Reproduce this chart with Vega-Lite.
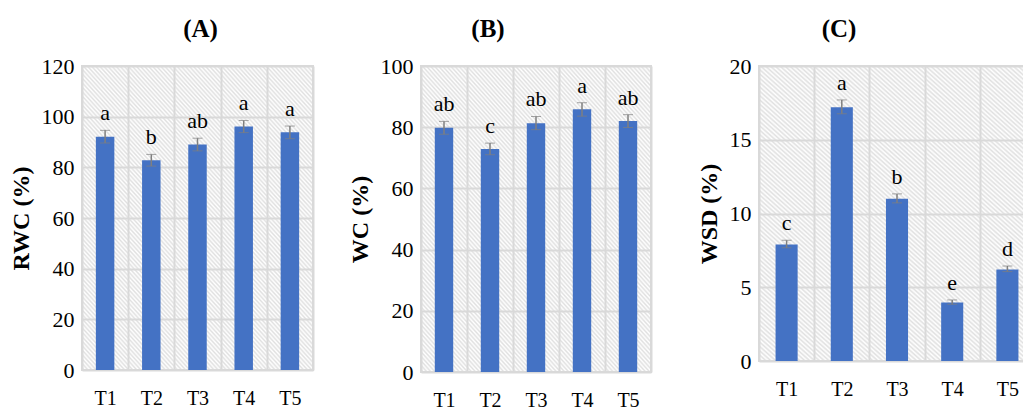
{
  "$schema": "https://vega.github.io/schema/vega-lite/v6.json",
  "background": "white",
  "padding": {"left": 8, "top": 16, "right": 0, "bottom": 0},
  "datasets": {
    "A": [
      {"t": "T1", "m": 92.1, "lo": 89.6, "hi": 94.6, "g": "a"},
      {"t": "T2", "m": 82.8, "lo": 80.5, "hi": 85.1, "g": "b"},
      {"t": "T3", "m": 89.0, "lo": 86.5, "hi": 91.5, "g": "ab"},
      {"t": "T4", "m": 96.1, "lo": 93.7, "hi": 98.5, "g": "a"},
      {"t": "T5", "m": 93.8, "lo": 91.3, "hi": 96.3, "g": "a"}
    ],
    "B": [
      {"t": "T1", "m": 79.8, "lo": 77.7, "hi": 81.9, "g": "ab"},
      {"t": "T2", "m": 72.9, "lo": 71.0, "hi": 74.8, "g": "c"},
      {"t": "T3", "m": 81.3, "lo": 79.2, "hi": 83.5, "g": "ab"},
      {"t": "T4", "m": 85.9, "lo": 83.6, "hi": 88.0, "g": "a"},
      {"t": "T5", "m": 82.0, "lo": 79.9, "hi": 84.1, "g": "ab"}
    ],
    "C": [
      {"t": "T1", "m": 7.9, "lo": 7.68, "hi": 8.18, "g": "c"},
      {"t": "T2", "m": 17.2, "lo": 16.76, "hi": 17.7, "g": "a"},
      {"t": "T3", "m": 11.0, "lo": 10.72, "hi": 11.33, "g": "b"},
      {"t": "T4", "m": 3.97, "lo": 3.85, "hi": 4.14, "g": "e"},
      {"t": "T5", "m": 6.2, "lo": 6.06, "hi": 6.44, "g": "d"}
    ]
  },
  "hconcat": [
    {
      "width": 231, "height": 304,
      "title": {"text": "(A)", "dx": 3},
      "data": {"name": "A"},
      "encoding": {"x": {"field": "t", "type": "nominal", "title": null, "scale": {"paddingInner": 0, "paddingOuter": 0}, "axis": {"labelFont": "Liberation Serif", "labelFontSize": 20, "labelAngle": 0, "labelPadding": 18, "tickBand": "extent"}}},
      "layer": [
        {"mark": {"type": "bar", "width": {"band": 0.4}, "color": "#4472c4"},
         "encoding": {"y": {"field": "m", "type": "quantitative", "title": "RWC (%)", "scale": {"domain": [0, 120]}, "axis": {"values": [0, 20, 40, 60, 80, 100, 120], "labelFont": "Liberation Serif", "labelFontSize": 22, "titleFont": "Liberation Serif", "titleFontSize": 24, "titleFontWeight": "bold"}}}},
        {"mark": {"type": "errorbar", "ticks": {"size": 10, "color": "#7f7f7f", "strokeWidth": 1.5}, "rule": {"color": "#7f7f7f", "strokeWidth": 1.5}},
         "encoding": {"y": {"field": "lo", "type": "quantitative", "title": "RWC (%)"}, "y2": {"field": "hi"}}},
        {"mark": {"type": "text", "dy": -10, "baseline": "alphabetic", "font": "Liberation Serif", "fontSize": 22, "color": "black"},
         "encoding": {"y": {"field": "hi", "type": "quantitative", "title": "RWC (%)"}, "text": {"field": "g"}}}
      ]
    },
    {
      "width": 230, "height": 306,
      "title": {"text": "(B)", "dx": -48},
      "data": {"name": "B"},
      "encoding": {"x": {"field": "t", "type": "nominal", "title": null, "scale": {"paddingInner": 0, "paddingOuter": 0}, "axis": {"labelFont": "Liberation Serif", "labelFontSize": 20, "labelAngle": 0, "labelPadding": 18, "tickBand": "extent"}}},
      "layer": [
        {"mark": {"type": "bar", "width": {"band": 0.4}, "color": "#4472c4"},
         "encoding": {"y": {"field": "m", "type": "quantitative", "title": "WC  (%)", "scale": {"domain": [0, 100]}, "axis": {"values": [0, 20, 40, 60, 80, 100], "labelFont": "Liberation Serif", "labelFontSize": 22, "titleFont": "Liberation Serif", "titleFontSize": 24, "titleFontWeight": "bold"}}}},
        {"mark": {"type": "errorbar", "ticks": {"size": 10, "color": "#7f7f7f", "strokeWidth": 1.5}, "rule": {"color": "#7f7f7f", "strokeWidth": 1.5}},
         "encoding": {"y": {"field": "lo", "type": "quantitative", "title": "WC  (%)"}, "y2": {"field": "hi"}}},
        {"mark": {"type": "text", "dy": -10, "baseline": "alphabetic", "font": "Liberation Serif", "fontSize": 22, "color": "black"},
         "encoding": {"y": {"field": "hi", "type": "quantitative", "title": "WC  (%)"}, "text": {"field": "g"}}}
      ]
    },
    {
      "width": 276, "height": 295,
      "title": {"text": "(C)", "dx": -58},
      "data": {"name": "C"},
      "encoding": {"x": {"field": "t", "type": "nominal", "title": null, "scale": {"paddingInner": 0, "paddingOuter": 0}, "axis": {"labelFont": "Liberation Serif", "labelFontSize": 20, "labelAngle": 0, "labelPadding": 18, "tickBand": "extent"}}},
      "layer": [
        {"mark": {"type": "bar", "width": {"band": 0.4}, "color": "#4472c4"},
         "encoding": {"y": {"field": "m", "type": "quantitative", "title": "WSD (%)", "scale": {"domain": [0, 20]}, "axis": {"values": [0, 5, 10, 15, 20], "labelFont": "Liberation Serif", "labelFontSize": 22, "titleFont": "Liberation Serif", "titleFontSize": 24, "titleFontWeight": "bold"}}}},
        {"mark": {"type": "errorbar", "ticks": {"size": 10, "color": "#7f7f7f", "strokeWidth": 1.5}, "rule": {"color": "#7f7f7f", "strokeWidth": 1.5}},
         "encoding": {"y": {"field": "lo", "type": "quantitative", "title": "WSD (%)"}, "y2": {"field": "hi"}}},
        {"mark": {"type": "text", "dy": -10, "baseline": "alphabetic", "font": "Liberation Serif", "fontSize": 22, "color": "black"},
         "encoding": {"y": {"field": "hi", "type": "quantitative", "title": "WSD (%)"}, "text": {"field": "g"}}}
      ]
    }
  ],
  "spacing": 108,
  "bounds": "flush",
  "config": {
    "font": "Liberation Serif",
    "view": {"stroke": "#d9d9d9", "strokeWidth": 2, "fill": {"gradient": "linear", "x1": 0, "y1": 1, "x2": 0.9016, "y2": -0.082, "stops": [
      {"offset": 0, "color": "#fff"}, {"offset": 0.004, "color": "#e0e0e0"}, {"offset": 0.008, "color": "#fff"}, {"offset": 0.012, "color": "#e0e0e0"}, {"offset": 0.016, "color": "#fff"}, {"offset": 0.02, "color": "#e0e0e0"}, {"offset": 0.024, "color": "#fff"}, {"offset": 0.028, "color": "#e0e0e0"}, {"offset": 0.032, "color": "#fff"}, {"offset": 0.036, "color": "#e0e0e0"},
      {"offset": 0.04, "color": "#fff"}, {"offset": 0.044, "color": "#e0e0e0"}, {"offset": 0.048, "color": "#fff"}, {"offset": 0.052, "color": "#e0e0e0"}, {"offset": 0.056, "color": "#fff"}, {"offset": 0.06, "color": "#e0e0e0"}, {"offset": 0.064, "color": "#fff"}, {"offset": 0.068, "color": "#e0e0e0"}, {"offset": 0.072, "color": "#fff"}, {"offset": 0.076, "color": "#e0e0e0"},
      {"offset": 0.08, "color": "#fff"}, {"offset": 0.084, "color": "#e0e0e0"}, {"offset": 0.088, "color": "#fff"}, {"offset": 0.092, "color": "#e0e0e0"}, {"offset": 0.096, "color": "#fff"}, {"offset": 0.1, "color": "#e0e0e0"}, {"offset": 0.104, "color": "#fff"}, {"offset": 0.108, "color": "#e0e0e0"}, {"offset": 0.112, "color": "#fff"}, {"offset": 0.116, "color": "#e0e0e0"},
      {"offset": 0.12, "color": "#fff"}, {"offset": 0.124, "color": "#e0e0e0"}, {"offset": 0.128, "color": "#fff"}, {"offset": 0.132, "color": "#e0e0e0"}, {"offset": 0.136, "color": "#fff"}, {"offset": 0.14, "color": "#e0e0e0"}, {"offset": 0.144, "color": "#fff"}, {"offset": 0.148, "color": "#e0e0e0"}, {"offset": 0.152, "color": "#fff"}, {"offset": 0.156, "color": "#e0e0e0"},
      {"offset": 0.16, "color": "#fff"}, {"offset": 0.164, "color": "#e0e0e0"}, {"offset": 0.168, "color": "#fff"}, {"offset": 0.172, "color": "#e0e0e0"}, {"offset": 0.176, "color": "#fff"}, {"offset": 0.18, "color": "#e0e0e0"}, {"offset": 0.184, "color": "#fff"}, {"offset": 0.188, "color": "#e0e0e0"}, {"offset": 0.192, "color": "#fff"}, {"offset": 0.196, "color": "#e0e0e0"},
      {"offset": 0.2, "color": "#fff"}, {"offset": 0.204, "color": "#e0e0e0"}, {"offset": 0.208, "color": "#fff"}, {"offset": 0.212, "color": "#e0e0e0"}, {"offset": 0.216, "color": "#fff"}, {"offset": 0.22, "color": "#e0e0e0"}, {"offset": 0.224, "color": "#fff"}, {"offset": 0.228, "color": "#e0e0e0"}, {"offset": 0.232, "color": "#fff"}, {"offset": 0.236, "color": "#e0e0e0"},
      {"offset": 0.24, "color": "#fff"}, {"offset": 0.244, "color": "#e0e0e0"}, {"offset": 0.248, "color": "#fff"}, {"offset": 0.252, "color": "#e0e0e0"}, {"offset": 0.256, "color": "#fff"}, {"offset": 0.26, "color": "#e0e0e0"}, {"offset": 0.264, "color": "#fff"}, {"offset": 0.268, "color": "#e0e0e0"}, {"offset": 0.272, "color": "#fff"}, {"offset": 0.276, "color": "#e0e0e0"},
      {"offset": 0.28, "color": "#fff"}, {"offset": 0.284, "color": "#e0e0e0"}, {"offset": 0.288, "color": "#fff"}, {"offset": 0.292, "color": "#e0e0e0"}, {"offset": 0.296, "color": "#fff"}, {"offset": 0.3, "color": "#e0e0e0"}, {"offset": 0.304, "color": "#fff"}, {"offset": 0.308, "color": "#e0e0e0"}, {"offset": 0.312, "color": "#fff"}, {"offset": 0.316, "color": "#e0e0e0"},
      {"offset": 0.32, "color": "#fff"}, {"offset": 0.324, "color": "#e0e0e0"}, {"offset": 0.328, "color": "#fff"}, {"offset": 0.332, "color": "#e0e0e0"}, {"offset": 0.336, "color": "#fff"}, {"offset": 0.34, "color": "#e0e0e0"}, {"offset": 0.344, "color": "#fff"}, {"offset": 0.348, "color": "#e0e0e0"}, {"offset": 0.352, "color": "#fff"}, {"offset": 0.356, "color": "#e0e0e0"},
      {"offset": 0.36, "color": "#fff"}, {"offset": 0.364, "color": "#e0e0e0"}, {"offset": 0.368, "color": "#fff"}, {"offset": 0.372, "color": "#e0e0e0"}, {"offset": 0.376, "color": "#fff"}, {"offset": 0.38, "color": "#e0e0e0"}, {"offset": 0.384, "color": "#fff"}, {"offset": 0.388, "color": "#e0e0e0"}, {"offset": 0.392, "color": "#fff"}, {"offset": 0.396, "color": "#e0e0e0"},
      {"offset": 0.4, "color": "#fff"}, {"offset": 0.404, "color": "#e0e0e0"}, {"offset": 0.408, "color": "#fff"}, {"offset": 0.412, "color": "#e0e0e0"}, {"offset": 0.416, "color": "#fff"}, {"offset": 0.42, "color": "#e0e0e0"}, {"offset": 0.424, "color": "#fff"}, {"offset": 0.428, "color": "#e0e0e0"}, {"offset": 0.432, "color": "#fff"}, {"offset": 0.436, "color": "#e0e0e0"},
      {"offset": 0.44, "color": "#fff"}, {"offset": 0.444, "color": "#e0e0e0"}, {"offset": 0.448, "color": "#fff"}, {"offset": 0.452, "color": "#e0e0e0"}, {"offset": 0.456, "color": "#fff"}, {"offset": 0.46, "color": "#e0e0e0"}, {"offset": 0.464, "color": "#fff"}, {"offset": 0.468, "color": "#e0e0e0"}, {"offset": 0.472, "color": "#fff"}, {"offset": 0.476, "color": "#e0e0e0"},
      {"offset": 0.48, "color": "#fff"}, {"offset": 0.484, "color": "#e0e0e0"}, {"offset": 0.488, "color": "#fff"}, {"offset": 0.492, "color": "#e0e0e0"}, {"offset": 0.496, "color": "#fff"}, {"offset": 0.5, "color": "#e0e0e0"}, {"offset": 0.504, "color": "#fff"}, {"offset": 0.508, "color": "#e0e0e0"}, {"offset": 0.512, "color": "#fff"}, {"offset": 0.516, "color": "#e0e0e0"},
      {"offset": 0.52, "color": "#fff"}, {"offset": 0.524, "color": "#e0e0e0"}, {"offset": 0.528, "color": "#fff"}, {"offset": 0.532, "color": "#e0e0e0"}, {"offset": 0.536, "color": "#fff"}, {"offset": 0.54, "color": "#e0e0e0"}, {"offset": 0.544, "color": "#fff"}, {"offset": 0.548, "color": "#e0e0e0"}, {"offset": 0.552, "color": "#fff"}, {"offset": 0.556, "color": "#e0e0e0"},
      {"offset": 0.56, "color": "#fff"}, {"offset": 0.564, "color": "#e0e0e0"}, {"offset": 0.568, "color": "#fff"}, {"offset": 0.572, "color": "#e0e0e0"}, {"offset": 0.576, "color": "#fff"}, {"offset": 0.58, "color": "#e0e0e0"}, {"offset": 0.584, "color": "#fff"}, {"offset": 0.588, "color": "#e0e0e0"}, {"offset": 0.592, "color": "#fff"}, {"offset": 0.596, "color": "#e0e0e0"},
      {"offset": 0.6, "color": "#fff"}, {"offset": 0.604, "color": "#e0e0e0"}, {"offset": 0.608, "color": "#fff"}, {"offset": 0.612, "color": "#e0e0e0"}, {"offset": 0.616, "color": "#fff"}, {"offset": 0.62, "color": "#e0e0e0"}, {"offset": 0.624, "color": "#fff"}, {"offset": 0.628, "color": "#e0e0e0"}, {"offset": 0.632, "color": "#fff"}, {"offset": 0.636, "color": "#e0e0e0"},
      {"offset": 0.64, "color": "#fff"}, {"offset": 0.644, "color": "#e0e0e0"}, {"offset": 0.648, "color": "#fff"}, {"offset": 0.652, "color": "#e0e0e0"}, {"offset": 0.656, "color": "#fff"}, {"offset": 0.66, "color": "#e0e0e0"}, {"offset": 0.664, "color": "#fff"}, {"offset": 0.668, "color": "#e0e0e0"}, {"offset": 0.672, "color": "#fff"}, {"offset": 0.676, "color": "#e0e0e0"},
      {"offset": 0.68, "color": "#fff"}, {"offset": 0.684, "color": "#e0e0e0"}, {"offset": 0.688, "color": "#fff"}, {"offset": 0.692, "color": "#e0e0e0"}, {"offset": 0.696, "color": "#fff"}, {"offset": 0.7, "color": "#e0e0e0"}, {"offset": 0.704, "color": "#fff"}, {"offset": 0.708, "color": "#e0e0e0"}, {"offset": 0.712, "color": "#fff"}, {"offset": 0.716, "color": "#e0e0e0"},
      {"offset": 0.72, "color": "#fff"}, {"offset": 0.724, "color": "#e0e0e0"}, {"offset": 0.728, "color": "#fff"}, {"offset": 0.732, "color": "#e0e0e0"}, {"offset": 0.736, "color": "#fff"}, {"offset": 0.74, "color": "#e0e0e0"}, {"offset": 0.744, "color": "#fff"}, {"offset": 0.748, "color": "#e0e0e0"}, {"offset": 0.752, "color": "#fff"}, {"offset": 0.756, "color": "#e0e0e0"},
      {"offset": 0.76, "color": "#fff"}, {"offset": 0.764, "color": "#e0e0e0"}, {"offset": 0.768, "color": "#fff"}, {"offset": 0.772, "color": "#e0e0e0"}, {"offset": 0.776, "color": "#fff"}, {"offset": 0.78, "color": "#e0e0e0"}, {"offset": 0.784, "color": "#fff"}, {"offset": 0.788, "color": "#e0e0e0"}, {"offset": 0.792, "color": "#fff"}, {"offset": 0.796, "color": "#e0e0e0"},
      {"offset": 0.8, "color": "#fff"}, {"offset": 0.804, "color": "#e0e0e0"}, {"offset": 0.808, "color": "#fff"}, {"offset": 0.812, "color": "#e0e0e0"}, {"offset": 0.816, "color": "#fff"}, {"offset": 0.82, "color": "#e0e0e0"}, {"offset": 0.824, "color": "#fff"}, {"offset": 0.828, "color": "#e0e0e0"}, {"offset": 0.832, "color": "#fff"}, {"offset": 0.836, "color": "#e0e0e0"},
      {"offset": 0.84, "color": "#fff"}, {"offset": 0.844, "color": "#e0e0e0"}, {"offset": 0.848, "color": "#fff"}, {"offset": 0.852, "color": "#e0e0e0"}, {"offset": 0.856, "color": "#fff"}, {"offset": 0.86, "color": "#e0e0e0"}, {"offset": 0.864, "color": "#fff"}, {"offset": 0.868, "color": "#e0e0e0"}, {"offset": 0.872, "color": "#fff"}, {"offset": 0.876, "color": "#e0e0e0"},
      {"offset": 0.88, "color": "#fff"}, {"offset": 0.884, "color": "#e0e0e0"}, {"offset": 0.888, "color": "#fff"}, {"offset": 0.892, "color": "#e0e0e0"}, {"offset": 0.896, "color": "#fff"}, {"offset": 0.9, "color": "#e0e0e0"}, {"offset": 0.904, "color": "#fff"}, {"offset": 0.908, "color": "#e0e0e0"}, {"offset": 0.912, "color": "#fff"}, {"offset": 0.916, "color": "#e0e0e0"},
      {"offset": 0.92, "color": "#fff"}, {"offset": 0.924, "color": "#e0e0e0"}, {"offset": 0.928, "color": "#fff"}, {"offset": 0.932, "color": "#e0e0e0"}, {"offset": 0.936, "color": "#fff"}, {"offset": 0.94, "color": "#e0e0e0"}, {"offset": 0.944, "color": "#fff"}, {"offset": 0.948, "color": "#e0e0e0"}, {"offset": 0.952, "color": "#fff"}, {"offset": 0.956, "color": "#e0e0e0"},
      {"offset": 0.96, "color": "#fff"}, {"offset": 0.964, "color": "#e0e0e0"}, {"offset": 0.968, "color": "#fff"}, {"offset": 0.972, "color": "#e0e0e0"}, {"offset": 0.976, "color": "#fff"}, {"offset": 0.98, "color": "#e0e0e0"}, {"offset": 0.984, "color": "#fff"}, {"offset": 0.988, "color": "#e0e0e0"}, {"offset": 0.992, "color": "#fff"}, {"offset": 0.996, "color": "#e0e0e0"},
      {"offset": 1, "color": "#fff"}
    ]}},
    "title": {"font": "Liberation Serif", "fontSize": 25, "fontWeight": "bold", "color": "black", "offset": 13, "anchor": "middle"},
    "axis": {
      "labelColor": "black", "titleColor": "black",
      "domain": false, "ticks": false, "grid": true, "gridColor": "#d9d9d9", "gridWidth": 2
    },
    "axisY": {"labelPadding": 8, "titlePadding": 8}
  }
}
